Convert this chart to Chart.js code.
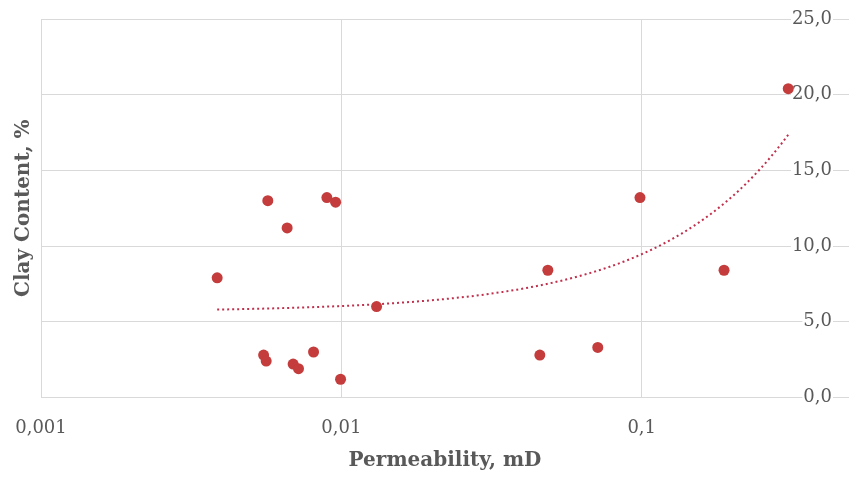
<!DOCTYPE html>
<html>
<head>
<meta charset="utf-8">
<script src="https://cdn.jsdelivr.net/npm/chart.js@4/dist/chart.umd.min.js"></script>
<style>
  body { margin: 0; background: #fff; }
  #wrap { width: 849px; height: 480px; }
</style>
</head>
<body>
<div id="wrap"><canvas id="chart" width="849" height="480"></canvas></div>
<script>
// Permeability (mD) and clay content (%)
const permeability = [0.00386, 0.00569, 0.0066, 0.00895, 0.00957, 0.00551, 0.00562, 0.00691, 0.0072,
                      0.00808, 0.00994, 0.0131, 0.0458, 0.0487, 0.0714, 0.0987, 0.188, 0.3076];
const clayContent = [7.9, 13.0, 11.2, 13.2, 12.9, 2.8, 2.4, 2.2, 1.9,
                     3.0, 1.2, 6.0, 2.8, 8.4, 3.3, 13.2, 8.4, 20.4];
const xTicks = [0.001, 0.01, 0.1];
const yTicks = [0, 5, 10, 15, 20, 25];

const FONT = 'DejaVu Serif';
const GREY = '#595959';

// linear least-squares trendline (as Excel draws it), sampled along the log axis
const n = permeability.length;
const mx = permeability.reduce((a, b) => a + b, 0) / n;
const my = clayContent.reduce((a, b) => a + b, 0) / n;
let sxy = 0, sxx = 0;
permeability.forEach((x, i) => {
    sxy += (x - mx) * (clayContent[i] - my);
    sxx += (x - mx) * (x - mx);
});
const slope = sxy / sxx;
const intercept = my - slope * mx;
const xMin = Math.min(...permeability), xMax = Math.max(...permeability);
const trend = [];
for (let i = 0; i <= 80; i++) {
    const x = Math.pow(10, Math.log10(xMin) + (Math.log10(xMax) - Math.log10(xMin)) * i / 80);
    trend.push({ x: x, y: intercept + slope * x });
}

const points = permeability.map((x, i) => ({ x: x, y: clayContent[i] }));
const fmt = v => String(v).replace('.', ',');

new Chart(document.getElementById('chart'), {
    type: 'scatter',
    data: {
        datasets: [
            {
                data: points,
                order: 0,
                backgroundColor: '#C43C3C',
                borderColor: '#C43C3C',
                pointRadius: 5.5,
                pointBorderWidth: 0
            },
            {
                data: trend,
                order: 1,
                showLine: true,
                borderColor: '#C0304D',
                borderWidth: 2,
                borderDash: [2, 3],
                pointRadius: 0,
                tension: 0
            }
        ]
    },
    options: {
        responsive: false,
        animation: false,
        devicePixelRatio: 1,
        layout: { autoPadding: false, padding: { top: 19, right: 0, bottom: 0, left: 0 } },
        plugins: {
            legend: { display: false },
            tooltip: { enabled: false },
            title: {
                display: true,
                text: 'Clay Content, %',
                position: 'left',
                fullSize: false,
                color: GREY,
                font: { family: FONT, size: 20, weight: 'bold' },
                padding: { top: 12, bottom: 5 }
            }
        },
        scales: {
            x: {
                type: 'logarithmic',
                min: 0.001,
                max: 0.49,
                afterBuildTicks: s => { s.ticks = xTicks.map(v => ({ value: v })); },
                afterFit: s => { s.paddingLeft = 0; s.paddingRight = 0; },
                grid: { color: '#D9D9D9', lineWidth: 1, drawTicks: false },
                border: { display: false },
                ticks: {
                    color: GREY,
                    font: { family: FONT, size: 18 },
                    padding: 20,
                    maxRotation: 0,
                    autoSkip: false,
                    callback: v => fmt(v)
                },
                title: {
                    display: true,
                    text: 'Permeability, mD',
                    color: GREY,
                    font: { family: FONT, size: 20, weight: 'bold' },
                    padding: { top: -10, bottom: 7 }
                }
            },
            y: {
                position: 'right',
                min: 0,
                max: 25,
                afterBuildTicks: s => { s.ticks = yTicks.map(v => ({ value: v })); },
                afterFit: s => { s.width = 0; },
                grid: { color: '#D9D9D9', lineWidth: 1, drawTicks: false },
                border: { display: false },
                ticks: {
                    mirror: true,
                    padding: -17,
                    color: GREY,
                    font: { family: FONT, size: 18 },
                    showLabelBackdrop: true,
                    backdropColor: '#ffffff',
                    backdropPadding: { left: 1, right: 1, top: 0, bottom: 0 },
                    callback: v => v.toFixed(1).replace('.', ',')
                }
            }
        }
    }
});
</script>
</body>
</html>
